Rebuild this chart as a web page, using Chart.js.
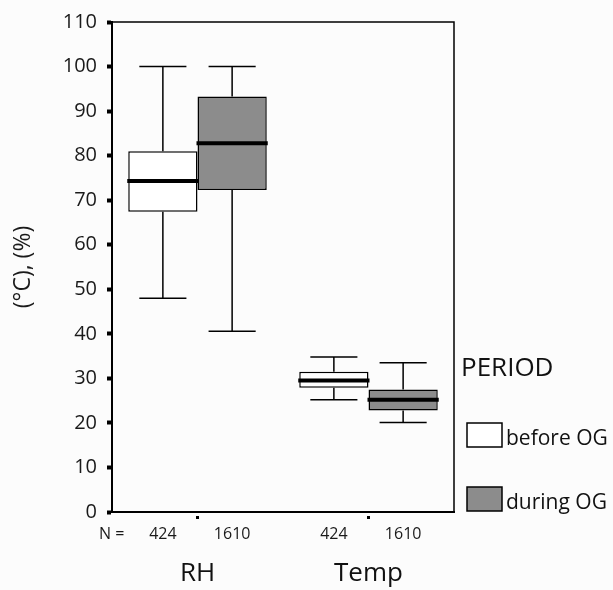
<!DOCTYPE html>
<html>
<head>
<meta charset="utf-8">
<script src="https://cdn.jsdelivr.net/npm/chart.js@4.4.1/dist/chart.umd.min.js"></script>
<style>
  html, body { margin: 0; padding: 0; background: #fcfcfc; }
  #wrap { width: 613px; height: 590px; }
</style>
</head>
<body>
<div id="wrap"><canvas id="graph1"></canvas></div>
<script>
const categories = ['RH', 'Temp'];
const periods = ['before OG', 'during OG'];

// box plot values
const beforeMin = [48, 25.2];
const beforeQ1 = [67.4, 27.9];
const beforeMed = [74.3, 29.5];
const beforeQ3 = [81, 31.5];
const beforeMax = [100, 34.8];

const duringMin = [40.6, 20.1];
const duringQ1 = [72.3, 22.8];
const duringMed = [82.8, 25.2];
const duringQ3 = [93.3, 27.5];
const duringMax = [100, 33.5];

const nBefore = [424, 424];
const nDuring = [1610, 1610];

const yTicks = [0, 10, 20, 30, 40, 50, 60, 70, 80, 90, 100, 110];

const fontName = "'Open Sans', 'DejaVu Sans', sans-serif";
const boxColors = ['#ffffff', '#8c8c8c'];

const whiskers = [
  { min: beforeMin, med: beforeMed, max: beforeMax, q1: beforeQ1, q3: beforeQ3, n: nBefore },
  { min: duringMin, med: duringMed, max: duringMax, q1: duringQ1, q3: duringQ3, n: nDuring },
];

// whiskers, medians, N row, frame and legend
const boxPlugin = {
  id: 'boxPlugin',
  afterDatasetsDraw(chart) {
    const ctx = chart.ctx;
    const y = chart.scales.y;
    const area = chart.chartArea;
    ctx.save();
    ctx.strokeStyle = '#000';
    whiskers.forEach((w, di) => {
      const meta = chart.getDatasetMeta(di);
      meta.data.forEach((bar, i) => {
        const cx = bar.x;
        const half = bar.width / 2;
        const cap = bar.width * 0.34;
        const yMax = y.getPixelForValue(w.max[i]);
        const yMin = y.getPixelForValue(w.min[i]);
        ctx.lineWidth = 1.5;
        ctx.beginPath();
        ctx.moveTo(cx, y.getPixelForValue(w.q3[i]));
        ctx.lineTo(cx, yMax);
        ctx.moveTo(cx - cap, yMax);
        ctx.lineTo(cx + cap, yMax);
        ctx.moveTo(cx, y.getPixelForValue(w.q1[i]));
        ctx.lineTo(cx, yMin);
        ctx.moveTo(cx - cap, yMin);
        ctx.lineTo(cx + cap, yMin);
        ctx.stroke();
        ctx.lineWidth = 4;
        ctx.beginPath();
        ctx.moveTo(cx - half - 1, y.getPixelForValue(w.med[i]));
        ctx.lineTo(cx + half + 1, y.getPixelForValue(w.med[i]));
        ctx.stroke();
        // N under each box
        ctx.fillStyle = '#1a1a1a';
        ctx.font = '16px ' + fontName;
        ctx.textAlign = 'center';
        ctx.textBaseline = 'alphabetic';
        ctx.fillText(String(w.n[i]), cx, 539);
      });
    });
    ctx.fillStyle = '#1a1a1a';
    ctx.font = '16px ' + fontName;
    ctx.textAlign = 'left';
    ctx.fillText('N =', 99, 539);

    // frame: top and right
    ctx.lineWidth = 1.5;
    ctx.strokeStyle = '#000';
    ctx.beginPath();
    ctx.moveTo(area.left, area.top);
    ctx.lineTo(area.right, area.top);
    ctx.lineTo(area.right, area.bottom);
    ctx.stroke();

    // legend
    ctx.fillStyle = '#111';
    ctx.font = '26px ' + fontName;
    ctx.textAlign = 'left';
    ctx.fillText('PERIOD', 461, 376);
    periods.forEach((p, k) => {
      const top = 423 + k * 64;
      ctx.fillStyle = boxColors[k];
      ctx.fillRect(467, top, 35, 24);
      ctx.lineWidth = 1.5;
      ctx.strokeStyle = '#000';
      ctx.strokeRect(467, top, 35, 24);
      ctx.fillStyle = '#111';
      ctx.font = '21px ' + fontName;
      ctx.fillText(p, 506, top + 22);
    });
    ctx.restore();
  }
};

new Chart(document.getElementById('graph1'), {
  type: 'bar',
  data: {
    labels: categories,
    datasets: [
      {
        label: periods[0],
        data: categories.map((c, i) => [beforeQ1[i], beforeQ3[i]]),
        backgroundColor: boxColors[0],
        borderColor: '#000',
        borderWidth: 1.5,
        borderSkipped: false,
      },
      {
        label: periods[1],
        data: categories.map((c, i) => [duringQ1[i], duringQ3[i]]),
        backgroundColor: boxColors[1],
        borderColor: '#000',
        borderWidth: 1.5,
        borderSkipped: false,
      },
    ],
  },
  options: {
    responsive: true,
    maintainAspectRatio: false,
    animation: false,
    categoryPercentage: 0.81,
    barPercentage: 1.0,
    layout: { padding: { top: 17, right: 159, left: 0, bottom: 0 } },
    plugins: {
      legend: { display: false },
      tooltip: { enabled: false },
    },
    scales: {
      x: {
        grid: { drawOnChartArea: false, offset: false, tickLength: 7, tickWidth: 3, tickBorderDash: [3, 8], tickBorderDashOffset: 8, color: '#000' },
        border: { display: true, color: '#000', width: 2 },
        ticks: { color: '#111', font: { family: fontName, size: 26 }, padding: 39 },
        afterFit(scale) { scale.height = 78; },
      },
      y: {
        min: 0,
        max: 110,
        afterBuildTicks(scale) { scale.ticks = yTicks.map(v => ({ value: v })); },
        grid: { drawOnChartArea: false, tickLength: 5, tickWidth: 4, color: '#000' },
        border: { display: true, color: '#000', width: 2 },
        ticks: { color: '#1a1a1a', font: { family: fontName, size: 20 }, padding: 10 },
        title: { display: true, text: '(°C), (%)', color: '#1a1a1a', font: { family: fontName, size: 23 }, padding: { top: 10, bottom: 0 } },
        afterFit(scale) { scale.width = 112; },
      },
    },
  },
  plugins: [boxPlugin],
});
</script>
</body>
</html>
